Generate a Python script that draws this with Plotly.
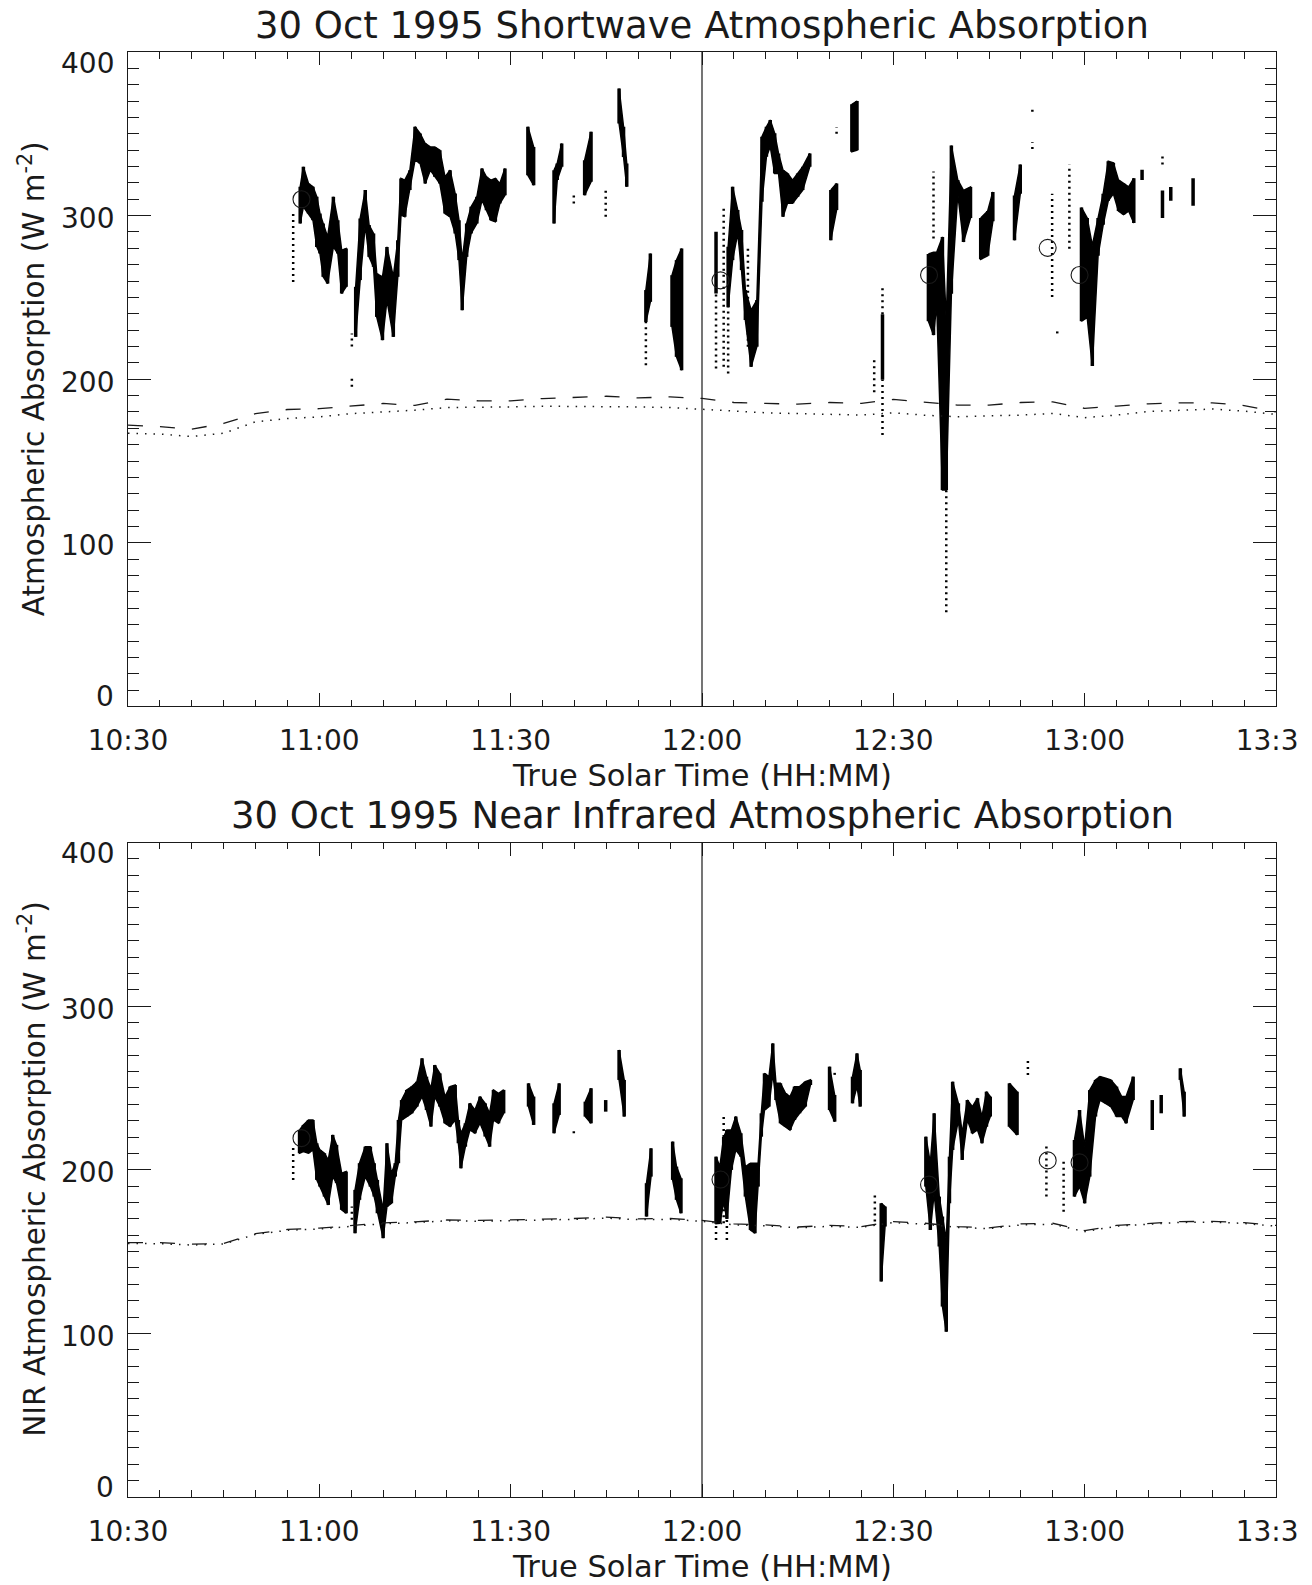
import plotly.graph_objects as go

# ---------------- data (time = minutes after midnight, true solar time) ----------------
# Shortwave: dense streaks (time, low, high)
sw_t = [657.0, 657.5, 658.3, 659.0, 659.6, 660.1, 660.6, 661.3, 662.2, 662.9, 663.5, 664.2,
        665.7, 666.4, 667.2, 667.8, 668.5, 669.0, 669.9, 670.6, 671.6, 672.3, 672.8, 673.4,
        674.2, 675.0, 675.8, 676.6, 677.4, 678.1, 678.9, 679.7, 680.5, 681.3, 681.9, 682.4,
        683.1, 683.8, 684.7, 685.5, 686.2, 686.9, 687.6, 688.3, 689.1, 692.7, 693.6, 696.8,
        697.3, 698.0, 701.6, 702.6, 707.0, 707.7, 708.2, 711.2, 711.9, 715.3, 716.0, 716.8,
        722.2, 724.1, 724.8, 725.6, 726.2, 726.8, 727.7, 728.6, 729.4, 730.1, 730.7, 731.4,
        732.0, 732.7, 733.4, 734.2, 735.0, 735.8, 736.9, 740.2, 741.1, 743.5, 744.3, 748.3,
        755.5, 756.3, 756.8, 757.7, 758.3, 759.1, 760.1, 761.0, 762.1, 763.7, 764.8, 765.6,
        769.0, 769.9, 779.5, 780.4, 781.2, 782.1, 782.9, 783.7, 784.5, 785.3, 786.1, 786.9,
        787.7, 789.0, 792.2, 793.5, 797.0]
sw_lo = [295.2, 305.4, 301.3, 297.2, 280.9, 276.8, 262.6, 258.5, 280.9, 276.8, 252.4, 256.5,
         225.9, 260.6, 294.2, 274.8, 268.7, 238.1, 223.9, 248.3, 225.9, 262.6, 300.3, 299.3,
         315.6, 333.9, 331.9, 319.6, 327.8, 323.7, 319.6, 301.3, 299.3, 289.1, 272.8, 242.2,
         274.8, 289.1, 295.2, 309.5, 303.3, 297.2, 296.2, 307.4, 312.5, 324.7, 318.6, 295.2,
         321.7, 329.8, 312.5, 320.7, 356.3, 335.9, 317.6, 235.0, 247.3, 232.0, 213.7, 205.5,
         252.4, 244.0, 272.8, 289.1, 266.7, 236.2, 207.6, 219.9, 308.5, 336.0, 342.1, 325.8,
         325.8, 299.3, 307.5, 307.5, 311.5, 315.6, 329.9, 285.0, 303.4, 339.0, 340.0, 199.7,
         235.5, 227.0, 246.0, 132.3, 132.3, 252.3, 313.3, 283.9, 298.6, 273.3, 275.5, 296.5,
         284.9, 313.3, 235.5, 237.6, 208.1, 275.5, 294.4, 309.1, 313.3, 302.8, 300.7, 302.8,
         295.5, 321.8, 298.6, 309.1, 306.0]
sw_hi = [317.6, 329.8, 319.6, 317.6, 311.5, 301.3, 295.2, 287.0, 311.5, 297.2, 278.9, 279.9,
         256.5, 298.2, 315.6, 294.2, 289.1, 264.6, 262.6, 280.9, 262.6, 285.0, 322.7, 321.7,
         327.8, 354.3, 350.2, 344.1, 342.0, 342.0, 340.0, 323.7, 327.8, 313.5, 297.2, 272.8,
         295.2, 305.4, 311.5, 328.8, 323.7, 321.7, 322.7, 319.6, 328.8, 354.3, 342.0, 327.8,
         331.9, 344.1, 333.9, 351.2, 377.7, 354.3, 331.9, 254.5, 276.8, 263.6, 272.8, 279.9,
         290.1, 281.0, 317.6, 303.4, 291.2, 254.5, 242.3, 248.4, 348.2, 354.3, 358.4, 350.3,
         338.0, 327.8, 325.8, 321.7, 325.8, 329.9, 338.0, 315.6, 319.7, 368.0, 370.0, 239.7,
         276.5, 277.6, 277.6, 287.0, 235.5, 342.8, 321.8, 315.4, 317.5, 298.6, 302.8, 314.4,
         312.3, 331.2, 304.9, 298.6, 281.8, 298.6, 313.3, 333.3, 332.3, 321.8, 319.7, 317.5,
         322.8, 328.1, 315.4, 317.5, 322.8]

# Shortwave: sparse dotted columns
sw_sp_t = [655.9, 665.1, 665.1, 699.9, 704.9, 711.2, 722.2, 723.4, 724.1, 727.2, 741.1, 747.0,
           748.3, 748.3, 756.3, 758.3, 771.8, 771.8, 774.9, 775.7, 777.6, 792.2]
sw_sp_lo = [259.5, 220.0, 195.4, 307.4, 299.3, 208.6, 206.6, 207.6, 203.5, 219.9, 350.0, 192.0,
            166.0, 239.7, 286.0, 57.6, 340.7, 363.5, 250.2, 228.0, 279.7, 331.2]
sw_sp_hi = [301.3, 228.0, 200.4, 314.5, 315.6, 235.0, 252.4, 305.4, 244.0, 281.0, 354.0, 211.7,
            199.7, 256.5, 327.0, 132.3, 344.9, 365.0, 313.3, 230.0, 331.2, 337.5]

# Near infrared: dense streaks
nir_t = [656.9, 657.5, 658.3, 659.0, 659.6, 660.1, 660.8, 661.4, 662.1, 662.7, 663.5, 664.2,
         665.6, 666.3, 667.2, 668.0, 668.6, 669.1, 670.0, 670.6, 671.3, 671.9, 672.4, 672.9,
         673.7, 674.5, 675.3, 676.1, 676.8, 677.5, 678.1, 678.9, 679.7, 680.5, 681.3, 681.8,
         682.2, 682.9, 683.6, 684.4, 685.2, 686.0, 686.7, 687.3, 688.1, 688.9, 692.8, 693.6,
         696.8, 697.6, 701.7, 702.6, 704.9, 707.0, 707.8, 711.3, 712.0, 715.4, 716.0, 716.7,
         722.2, 722.8, 723.4, 723.9, 724.6, 725.3, 726.1, 726.8, 727.6, 728.3, 728.8, 729.3,
         729.8, 730.5, 731.1, 731.6, 732.3, 733.1, 733.8, 734.5, 735.3, 736.2, 737.0, 740.0,
         740.8, 743.6, 744.3, 744.8, 748.1, 748.7, 755.1, 755.8, 756.4, 757.2, 757.7, 758.3,
         758.8, 759.3, 760.2, 760.8, 761.6, 762.4, 763.2, 763.9, 764.6, 765.2, 768.2, 769.4,
         778.4, 779.2, 780.0, 780.8, 781.7, 782.4, 783.3, 784.1, 785.0, 785.8, 786.5, 787.6,
         790.6, 792.0, 795.0, 795.6]
nir_lo = [210.1, 211.1, 210.1, 212.1, 193.8, 189.7, 183.6, 178.5, 195.8, 191.8, 175.5, 173.4,
          161.2, 181.6, 195.8, 189.7, 183.6, 173.4, 158.2, 177.5, 179.5, 195.8, 204.0, 230.4,
          232.5, 234.5, 238.6, 244.7, 236.5, 226.4, 244.7, 238.6, 228.4, 226.4, 230.4, 216.2,
          200.9, 214.1, 224.3, 222.3, 228.4, 220.3, 214.1, 230.4, 228.4, 234.5, 238.6, 227.4,
          222.3, 233.5, 232.5, 228.4, 235.5, 254.9, 232.5, 171.4, 195.8, 193.8, 181.6, 173.4,
          167.0, 167.3, 180.0, 170.0, 199.9, 212.1, 208.0, 183.6, 163.2, 161.2, 189.7, 220.2,
          236.5, 238.6, 258.9, 242.6, 228.4, 226.3, 224.3, 230.4, 234.5, 238.6, 251.8, 236.5,
          229.4, 240.6, 250.8, 238.6, 131.7, 165.3, 189.7, 163.2, 185.6, 153.1, 116.4, 101.0,
          179.5, 212.1, 230.4, 206.0, 230.4, 222.3, 224.3, 216.2, 226.3, 232.5, 226.3, 221.3,
          183.6, 189.7, 179.5, 195.8, 232.5, 242.6, 240.6, 238.6, 232.5, 232.5, 228.4, 242.6,
          224.3, 234.5, 254.9, 232.5]
nir_hi = [224.3, 227.4, 230.4, 230.4, 216.2, 212.1, 210.1, 206.0, 221.3, 215.2, 197.9, 198.9,
          187.7, 204.0, 214.1, 214.1, 204.0, 193.8, 175.5, 216.2, 197.9, 204.0, 230.4, 242.6,
          248.8, 250.8, 253.8, 268.1, 256.9, 249.8, 264.0, 258.9, 244.7, 250.8, 251.8, 230.4,
          222.3, 228.4, 240.6, 236.5, 244.7, 240.6, 234.5, 248.8, 246.7, 248.8, 252.8, 244.7,
          240.6, 252.8, 241.6, 249.8, 242.6, 273.2, 254.9, 191.8, 213.1, 217.2, 201.9, 194.8,
          208.0, 201.9, 220.0, 224.3, 224.3, 232.5, 222.3, 201.9, 204.0, 204.0, 204.0, 234.5,
          258.9, 256.9, 277.2, 252.8, 252.8, 246.7, 244.7, 250.8, 250.8, 253.8, 254.9, 263.0,
          245.7, 256.9, 271.1, 261.0, 179.5, 177.5, 220.2, 204.0, 234.5, 183.6, 171.4, 157.1,
          208.0, 253.8, 240.6, 222.3, 242.6, 238.6, 243.7, 232.5, 247.7, 244.7, 252.8, 247.7,
          218.2, 236.5, 214.1, 248.7, 254.9, 256.9, 255.9, 254.9, 250.8, 244.7, 244.7, 256.9,
          242.6, 245.7, 262.0, 247.7]

# Near infrared: sparse dotted columns
nir_sp_t = [655.9, 665.1, 699.9, 722.2, 723.4, 723.4, 723.9, 740.8, 747.1, 771.1, 774.0, 776.7]
nir_sp_lo = [193.8, 169.4, 222.3, 157.1, 220.0, 167.3, 157.1, 258.0, 168.3, 257.9, 183.6, 174.4]
nir_sp_hi = [215.2, 177.5, 224.3, 167.0, 234.5, 180.0, 170.0, 261.0, 184.6, 267.1, 215.1, 206.0]

# Clear-sky model curves
line_t = [630, 635, 640, 645, 650, 655, 660, 665, 670, 675, 680, 685, 690, 695, 700, 705, 710,
          715, 720, 725, 730, 735, 740, 745, 750, 755, 760, 765, 770, 775, 780, 785, 790, 795,
          800, 805, 810]
sw_dash = [172.0, 171.0, 169.5, 173.0, 179.0, 181.5, 182.0, 183.5, 185.2, 184.0, 187.8, 186.8,
           186.8, 188.2, 188.8, 189.6, 188.6, 189.2, 188.3, 185.8, 185.2, 184.8, 185.8, 185.2,
           187.7, 185.8, 184.2, 184.2, 185.8, 186.2, 182.2, 183.6, 185.0, 185.6, 185.6, 183.9,
           180.0]
sw_dot = [167.0, 166.5, 165.0, 167.0, 174.0, 176.0, 177.0, 179.0, 180.0, 181.1, 182.7, 182.7,
          183.1, 183.5, 183.5, 183.5, 183.1, 182.7, 181.5, 180.5, 179.5, 179.0, 178.5, 178.1,
          179.5, 178.0, 177.1, 177.5, 178.1, 179.1, 176.5, 178.1, 180.3, 181.0, 181.8, 180.5,
          178.5]
nir_dash = [155.5, 155.5, 154.5, 155.0, 161.0, 163.5, 164.3, 166.0, 167.5, 168.2, 169.3, 169.0,
            169.3, 170.0, 170.2, 171.0, 170.0, 170.2, 169.0, 166.9, 166.3, 165.0, 166.0, 165.3,
            168.3, 167.3, 165.3, 164.5, 166.9, 167.3, 162.8, 166.0, 167.3, 168.3, 168.5, 167.7,
            166.0]
nir_dot = [155.0, 154.8, 154.0, 154.6, 160.5, 163.0, 163.8, 165.5, 167.0, 167.7, 168.8, 168.5,
           168.8, 169.5, 169.7, 170.4, 169.5, 169.7, 168.5, 166.3, 165.7, 164.5, 165.4, 164.8,
           167.7, 166.7, 164.8, 164.0, 166.3, 166.7, 162.2, 165.5, 166.8, 167.8, 168.0, 167.2,
           165.5]

# Circled points
circle_t = [657.2, 722.9, 755.6, 774.2, 779.2]
sw_circle = [310.0, 260.4, 263.7, 280.3, 263.7]
nir_circle = [219.3, 194.0, 190.9, 205.7, 204.5]

noon = 720
x_ticks = [630, 660, 690, 720, 750, 780, 810]
x_ticktext = ["10:30", "11:00", "11:30", "12:00", "12:30", "13:00", "13:3\u00a0\u00a0"]
y_ticks = [0, 100, 200, 300, 400]

titles = ["30 Oct 1995 Shortwave Atmospheric Absorption",
          "30 Oct 1995 Near Infrared Atmospheric Absorption"]
ytitles = ["Atmospheric Absorption (W m<sup>-2</sup>)",
           "NIR Atmospheric Absorption (W m<sup>-2</sup>)"]
xtitle = "True Solar Time (HH:MM)"

# ---------------- figure ----------------
FONT = "DejaVu Sans"
INK = "#1a1a1a"
MAX_GAP = 1.25  # minutes: samples closer than this form one continuous streak


def segments(t, lo, hi):
    xs, ys = [], []
    for a, b, c in zip(t, lo, hi):
        xs += [a, a, None]
        ys += [b, c, None]
    return xs, ys


def bands(t, lo, hi):
    """Closed outlines (hi forward, lo backward) for each run of close samples."""
    runs, cur = [], [0]
    for i in range(1, len(t)):
        if t[i] - t[i - 1] <= MAX_GAP:
            cur.append(i)
        else:
            runs.append(cur)
            cur = [i]
    runs.append(cur)
    xs, ys = [], []
    for r in runs:
        if len(r) < 2:
            continue
        xs += [t[i] for i in r] + [t[i] for i in reversed(r)] + [t[r[0]], None]
        ys += [hi[i] for i in r] + [lo[i] for i in reversed(r)] + [hi[r[0]], None]
    return xs, ys


fig = go.Figure()
panels = [
    ("x", "y", sw_t, sw_lo, sw_hi, sw_sp_t, sw_sp_lo, sw_sp_hi, sw_dash, sw_dot, sw_circle),
    ("x2", "y2", nir_t, nir_lo, nir_hi, nir_sp_t, nir_sp_lo, nir_sp_hi, nir_dash, nir_dot, nir_circle),
]
for xa, ya, t, lo, hi, st, slo, shi, dsh, dot, circ in panels:
    bx, by = bands(t, lo, hi)
    fig.add_trace(go.Scatter(x=bx, y=by, mode="lines", xaxis=xa, yaxis=ya, fill="toself",
                             fillcolor="black", line=dict(color="black", width=1.5),
                             hoverinfo="skip"))
    xs, ys = segments(t, lo, hi)
    fig.add_trace(go.Scatter(x=xs, y=ys, mode="lines", xaxis=xa, yaxis=ya,
                             line=dict(color="black", width=3.5), hoverinfo="skip"))
    xs, ys = segments(st, slo, shi)
    fig.add_trace(go.Scatter(x=xs, y=ys, mode="lines", xaxis=xa, yaxis=ya,
                             line=dict(color="black", width=2.5, dash="2px,4px"), hoverinfo="skip"))
    fig.add_trace(go.Scatter(x=line_t, y=dsh, mode="lines", xaxis=xa, yaxis=ya,
                             line=dict(color=INK, width=1.3, dash="15px,17px")))
    fig.add_trace(go.Scatter(x=line_t, y=dot, mode="lines", xaxis=xa, yaxis=ya,
                             line=dict(color=INK, width=1.5, dash="1.5px,7px")))
    fig.add_trace(go.Scatter(x=circle_t, y=circ, mode="markers", xaxis=xa, yaxis=ya,
                             marker=dict(symbol="circle-open", size=17, color=INK,
                                         line=dict(width=1.1, color=INK))))
    fig.add_shape(type="line", xref=xa, yref=ya + " domain", x0=noon, x1=noon, y0=0, y1=1,
                  line=dict(color=INK, width=1.2))

xcommon = dict(range=[630, 810], tickmode="array", tickvals=x_ticks, ticktext=x_ticktext,
               ticks="inside", ticklen=13, tickwidth=1.2, tickcolor=INK,
               minor=dict(tickmode="linear", tick0=630, dtick=5, ticks="inside", ticklen=6.5,
                          tickwidth=1.2, tickcolor=INK),
               showline=True, linecolor=INK, linewidth=1.3, mirror="allticks",
               showgrid=False, zeroline=False, automargin=False, ticklabeloverflow="allow",
               tickfont=dict(family=FONT, size=28, color=INK), ticklabelstandoff=9)
ycommon = dict(range=[0, 400], tickmode="linear", tick0=0, dtick=100,
               ticks="inside", ticklen=23, tickwidth=1.2, tickcolor=INK,
               minor=dict(tickmode="linear", tick0=0, dtick=10, ticks="inside", ticklen=10.5,
                          tickwidth=1.2, tickcolor=INK),
               showline=True, linecolor=INK, linewidth=1.3, mirror="allticks",
               showgrid=False, zeroline=False, automargin=False, showticklabels=False)

# the page body adds an 8px offset, so the figure is 8px smaller and margins shifted
TOP_DOM = [0.54706, 1.0]
BOT_DOM = [0.0, 0.45294]
fig.update_layout(
    width=1304, height=1577, template="none",
    margin=dict(l=120, r=36, t=44, b=88, pad=0),
    paper_bgcolor="white", plot_bgcolor="white", showlegend=False,
    font=dict(family=FONT, color=INK),
    xaxis=dict(domain=[0, 1], anchor="y", **xcommon),
    yaxis=dict(domain=TOP_DOM, anchor="x", **ycommon),
    xaxis2=dict(domain=[0, 1], anchor="y2", **xcommon),
    yaxis2=dict(domain=BOT_DOM, anchor="x2", **ycommon),
)

ann = []
for i, (dom, ya) in enumerate([(TOP_DOM, "y"), (BOT_DOM, "y2")]):
    ann.append(dict(text=titles[i], xref="paper", yref="paper", x=0.5, y=dom[1], yshift=27,
                    xanchor="center", yanchor="middle", showarrow=False, borderpad=0,
                    font=dict(family=FONT, size=37, color=INK)))
    ann.append(dict(text=xtitle, xref="paper", yref="paper", x=0.5, y=dom[0], yshift=-69,
                    xanchor="center", yanchor="middle", showarrow=False, borderpad=0,
                    font=dict(family=FONT, size=30.5, color=INK)))
    ann.append(dict(text=ytitles[i], xref="paper", yref="paper", x=0, y=(dom[0] + dom[1]) / 2,
                    xshift=-96, textangle=-90, xanchor="center", yanchor="middle",
                    showarrow=False, borderpad=0, font=dict(family=FONT, size=29.5, color=INK)))
    for v in y_ticks:
        shift = -3
        if v == y_ticks[-1]:
            shift = -11
        elif v == y_ticks[0]:
            shift = 10
        ann.append(dict(text=str(v), xref="paper", yref=ya, x=0, y=v, xshift=-13, yshift=shift,
                        xanchor="right", yanchor="middle", showarrow=False, borderpad=0,
                        font=dict(family=FONT, size=28, color=INK)))
fig.update_layout(annotations=ann)

fig.write_html("out.html")
